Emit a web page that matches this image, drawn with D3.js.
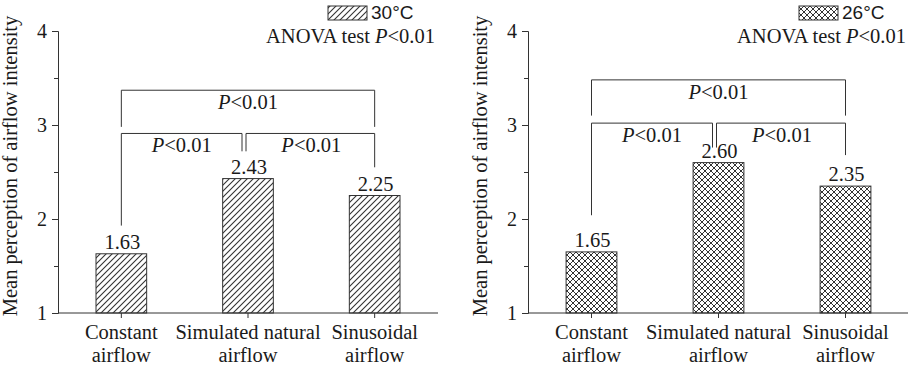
<!DOCTYPE html>
<html>
<head>
<meta charset="utf-8">
<script src="https://cdn.jsdelivr.net/npm/d3@7"></script>
<style>
  body { margin: 0; background: #fff; }
  svg text { font-family: 'Liberation Serif', 'DejaVu Serif', serif; fill: #1a1a1a; }
  svg text.sans { font-family: 'Liberation Sans', Arial, sans-serif; }
</style>
</head>
<body>
<div id="chart-area"></div>
<script>
// data
var categories = ["Constant airflow", "Simulated natural airflow", "Sinusoidal airflow"]
var catLines = [["Constant", "airflow"], ["Simulated natural", "airflow"], ["Sinusoidal", "airflow"]]
var values30 = [1.63, 2.43, 2.25]
var values26 = [1.65, 2.60, 2.35]
var yTicks = [1, 2, 3, 4]
var yMinor = [1.5, 2.5, 3.5]
var panelLegends = ["30°C", "26°C"]
// bracket levels in data units: outer top, outer legs, inner top, left leg end, middle legs end, right leg end
var brackets30 = [3.37, 2.98, 2.91, 1.93, 2.72, 2.55]
var brackets26 = [3.48, 3.10, 3.02, 2.04, 2.76, 2.68]

var W = 908, H = 365
var fs = "20.5px"
var svg = d3.select("#chart-area")
    .append("svg")
    .attr("width", W)
    .attr("height", H)

var defs = svg.append("defs")
var hatch = defs.append("pattern")
    .attr("id", "hatch")
    .attr("patternUnits", "userSpaceOnUse")
    .attr("width", 6).attr("height", 6)
hatch.append("rect").attr("width", 6).attr("height", 6).attr("fill", "#fff")
hatch.append("path")
    .attr("d", "M-1,1 l2,-2 M0,6 l6,-6 M5,7 l2,-2")
    .attr("stroke", "#333").attr("stroke-width", 1.1)

var cross = defs.append("pattern")
    .attr("id", "cross")
    .attr("patternUnits", "userSpaceOnUse")
    .attr("width", 6).attr("height", 6)
cross.append("rect").attr("width", 6).attr("height", 6).attr("fill", "#fff")
cross.append("path")
    .attr("d", "M-1,1 l2,-2 M0,6 l6,-6 M5,7 l2,-2 M-1,5 l2,2 M0,0 l6,6 M5,-1 l2,2")
    .attr("stroke", "#333").attr("stroke-width", 1)

var y = d3.scaleLinear()
    .domain([1, 4])
    .range([313, 31])

function drawPanel(x0, x1, values, bk, fill, legend) {
    var g = svg.append("g")
    var x = d3.scaleBand()
        .domain(categories)
        .range([x0, x1])
        .paddingInner(0.6)
        .paddingOuter(0.3)

    // y axis
    var yAxis = d3.axisLeft(y).tickValues(yTicks).tickSize(6).tickFormat(d3.format("d"))
    var ya = g.append("g").attr("transform", "translate(" + x0 + ",0)").call(yAxis)
    ya.select(".domain").attr("stroke", "#333")
    ya.selectAll(".tick line").attr("stroke", "#333")
    ya.selectAll(".tick text").attr("font-size", "20px").attr("x", -11).attr("dy", "0.34em")
    var ym = d3.axisLeft(y).tickValues(yMinor).tickSize(4).tickFormat("")
    var ymg = g.append("g").attr("transform", "translate(" + x0 + ",0)").call(ym)
    ymg.select(".domain").remove()
    ymg.selectAll(".tick line").attr("stroke", "#333")

    g.append("text")
        .attr("transform", "translate(" + (x0 - 41) + "," + 166 + ") rotate(-90)")
        .attr("text-anchor", "middle")
        .attr("font-size", fs)
        .text("Mean perception of airflow intensity")

    // bars
    g.selectAll("rect.bar")
        .data(values)
        .enter().append("rect")
        .attr("class", "bar")
        .attr("x", (d, i) => x(categories[i]))
        .attr("width", x.bandwidth())
        .attr("y", d => y(d))
        .attr("height", d => y(1) - y(d))
        .attr("fill", "url(#" + fill + ")")
        .attr("stroke", "#333")
        .attr("stroke-width", 1)

    g.selectAll("text.val")
        .data(values)
        .enter().append("text")
        .attr("class", "val")
        .attr("x", (d, i) => x(categories[i]) + x.bandwidth() / 2 + 1)
        .attr("y", d => y(d) - 5)
        .attr("text-anchor", "middle")
        .attr("font-size", fs)
        .text(d => d.toFixed(2))

    // x axis
    var xAxis = d3.axisBottom(x).tickSize(5).tickFormat("")
    var xa = g.append("g").attr("transform", "translate(0," + y(1) + ")").call(xAxis)
    xa.select(".domain").attr("stroke", "#333").attr("d", "M" + x0 + ",0H" + x1)
    xa.selectAll(".tick line").attr("stroke", "#333")

    categories.forEach(function(c, i) {
        var t = g.append("text")
            .attr("x", x(c) + x.bandwidth() / 2)
            .attr("y", 339)
            .attr("text-anchor", "middle")
            .attr("font-size", fs)
        t.append("tspan").attr("x", x(c) + x.bandwidth() / 2).text(catLines[i][0])
        t.append("tspan").attr("x", x(c) + x.bandwidth() / 2).attr("dy", 23).text(catLines[i][1])
    })

    // significance brackets
    var c0 = x(categories[0]) + x.bandwidth() / 2
    var c1 = x(categories[1]) + x.bandwidth() / 2
    var c2 = x(categories[2]) + x.bandwidth() / 2
    var line = d3.line()
    var paths = [
        [[c0, y(bk[1])], [c0, y(bk[0])], [c2, y(bk[0])], [c2, y(bk[1])]],
        [[c0, y(bk[3])], [c0, y(bk[2])], [c1 - 6, y(bk[2])], [c1 - 6, y(bk[4])]],
        [[c1 - 2, y(bk[4])], [c1 - 2, y(bk[2])], [c2, y(bk[2])], [c2, y(bk[5])]]
    ]
    g.selectAll("path.br")
        .data(paths)
        .enter().append("path")
        .attr("class", "br")
        .attr("d", line)
        .attr("fill", "none")
        .attr("stroke", "#333")
        .attr("stroke-width", 1)

    var plabels = [
        [(c0 + c2) / 2, y(bk[0]) + 19],
        [(c0 + c1 - 6) / 2, y(bk[2]) + 19],
        [(c1 + c2) / 2, y(bk[2]) + 19]
    ]
    plabels.forEach(function(p) {
        var t = g.append("text")
            .attr("x", p[0]).attr("y", p[1])
            .attr("text-anchor", "middle")
            .attr("font-size", fs)
        t.append("tspan").attr("font-style", "italic").text("P")
        t.append("tspan").text("<0.01")
    })

    // legend
    var lx = x1 - 110
    g.append("rect")
        .attr("x", lx).attr("y", 6)
        .attr("width", 39).attr("height", 14)
        .attr("fill", "url(#" + fill + ")")
        .attr("stroke", "#333")
    g.append("text")
        .attr("class", "sans")
        .attr("x", lx + 43).attr("y", 19)
        .attr("font-size", "19px")
        .text(legend)
    var an = g.append("text")
        .attr("x", x1 - 3).attr("y", 43)
        .attr("text-anchor", "end")
        .attr("font-size", fs)
    an.append("tspan").text("ANOVA test ")
    an.append("tspan").attr("font-style", "italic").text("P")
    an.append("tspan").text("<0.01")
}

drawPanel(58, 438, values30, brackets30, "hatch", panelLegends[0])
drawPanel(528, 909, values26, brackets26, "cross", panelLegends[1])
</script>
</body>
</html>
